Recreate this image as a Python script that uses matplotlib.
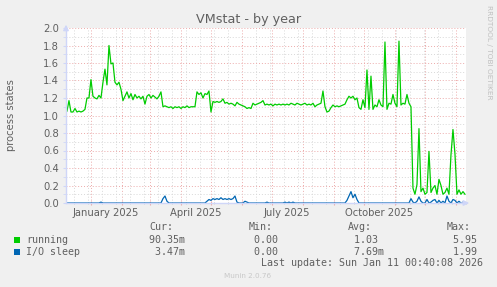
import numpy as np
import pandas as pd
import matplotlib
matplotlib.use("Agg")
import matplotlib.pyplot as plt
from matplotlib.patches import Rectangle

# sampled every 2 days, starting 2024-12-08
running = [
    1.05, 1.17, 1.04, 1.04, 1.08, 1.04, 1.05, 1.04, 1.05, 1.07,
    1.20, 1.20, 1.41, 1.22, 1.20, 1.19, 1.23, 1.20, 1.38, 1.53,
    1.35, 1.80, 1.59, 1.60, 1.38, 1.35, 1.38, 1.30, 1.17, 1.22,
    1.27, 1.20, 1.25, 1.18, 1.24, 1.20, 1.22, 1.19, 1.22, 1.13,
    1.22, 1.24, 1.20, 1.23, 1.21, 1.19, 1.22, 1.27, 1.10, 1.11,
    1.10, 1.09, 1.10, 1.08, 1.10, 1.09, 1.10, 1.08, 1.10, 1.09,
    1.11, 1.09, 1.10, 1.10, 1.10, 1.27, 1.24, 1.26, 1.20, 1.25,
    1.24, 1.28, 1.04, 1.16, 1.15, 1.16, 1.15, 1.16, 1.19, 1.14,
    1.15, 1.13, 1.14, 1.13, 1.11, 1.15, 1.13, 1.12, 1.11, 1.10,
    1.08, 1.09, 1.08, 1.14, 1.12, 1.13, 1.14, 1.15, 1.17, 1.12,
    1.13, 1.12, 1.13, 1.11, 1.13, 1.12, 1.13, 1.12, 1.13, 1.12,
    1.13, 1.12, 1.14, 1.13, 1.12, 1.14, 1.13, 1.12, 1.13, 1.14,
    1.12, 1.13, 1.12, 1.14, 1.10, 1.12, 1.13, 1.14, 1.28, 1.10,
    1.04, 1.05, 1.09, 1.12, 1.10, 1.11, 1.10, 1.11, 1.12, 1.13,
    1.18, 1.22, 1.20, 1.22, 1.18, 1.20, 1.09, 1.07, 1.18, 1.09,
    1.52, 1.07, 1.45, 1.07, 1.12, 1.10, 1.18, 1.12, 1.10, 1.84,
    1.07, 1.14, 1.13, 1.24, 1.14, 1.10, 1.85, 1.12, 1.14, 1.13,
    1.24, 1.14, 1.10, 0.17, 0.10, 0.21, 0.85, 0.13, 0.17, 0.10,
    0.12, 0.59, 0.12, 0.17, 0.20, 0.10, 0.27, 0.20, 0.10, 0.12,
    0.17, 0.10, 0.55, 0.84, 0.56, 0.10, 0.15, 0.10, 0.13, 0.10,
]
io_sleep = [
    0, 0, 0, 0, 0, 0, 0, 0, 0, 0,
    0, 0, 0, 0, 0, 0, 0, 0.01, 0, 0,
    0, 0, 0, 0, 0, 0, 0, 0, 0, 0,
    0, 0, 0, 0, 0, 0, 0, 0, 0, 0,
    0, 0, 0, 0, 0, 0, 0, 0, 0.05, 0.08,
    0.02, 0, 0, 0, 0, 0, 0, 0, 0, 0,
    0, 0, 0, 0, 0, 0, 0, 0, 0, 0,
    0.02, 0.04, 0.03, 0.05, 0.04, 0.05, 0.04, 0.06, 0.04, 0.05,
    0.04, 0.05, 0.04, 0.05, 0.08, 0.01, 0, 0, 0, 0.02,
    0.01, 0, 0, 0, 0, 0, 0, 0, 0, 0,
    0.01, 0, 0, 0, 0, 0, 0, 0, 0, 0.01,
    0, 0.01, 0, 0.01, 0, 0, 0, 0, 0, 0,
    0, 0, 0, 0, 0, 0, 0, 0, 0, 0,
    0, 0, 0, 0, 0, 0, 0, 0, 0, 0,
    0.03, 0.08, 0.13, 0.06, 0.10, 0.04, 0, 0, 0, 0,
    0, 0, 0, 0, 0, 0, 0, 0, 0, 0,
    0, 0, 0, 0, 0, 0, 0, 0, 0, 0,
    0, 0, 0.05, 0.01, 0, 0.02, 0.07, 0.02, 0, 0,
    0.04, 0, 0.01, 0.03, 0.04, 0, 0.03, 0, 0.02, 0,
    0.08, 0.02, 0, 0.04, 0.03, 0, 0.02, 0, 0.01, 0,
]
dates = pd.date_range("2024-12-08", periods=len(running), freq="2D")

series_names = ["running", "I/O sleep"]
series_colors = ["#00CC00", "#0066B3"]
stat_headers = ["Cur:", "Min:", "Avg:", "Max:"]
stats = [
    [("90.35", "m"), ("0.00", " "), ("1.03", " "), ("5.95", " ")],
    [("3.47", "m"), ("0.00", " "), ("7.69", "m"), ("1.99", " ")],
]
x_labels = ["January 2025", "April 2025", "July 2025", "October 2025"]
x_label_dates = ["2025-01-16", "2025-04-16", "2025-07-16", "2025-10-16"]

W, H = 497, 287
FONT = "#606060"
AXISC = "#CFD6F8"

def fx(x):
    return x / W

def fy(y):
    return 1 - y / H

fig = plt.figure(figsize=(W / 100, H / 100), dpi=100, facecolor="#F0F0F0")
ax = fig.add_axes([fx(66), fy(203), 400 / W, 175 / H])
ax.set_facecolor("white")

start = pd.Timestamp("2024-12-07 00:40")
end = pd.Timestamp("2026-01-11 00:40")
ax.set_xlim(start, end)
ax.set_ylim(0, 2.0)

# grid
ax.set_yticks(np.arange(0, 2.01, 0.2))
ax.set_yticks(np.arange(0, 2.01, 0.1), minor=True)
ax.set_yticklabels(["%.1f" % v for v in np.arange(0, 2.01, 0.2)])
months = pd.date_range("2025-01-01", "2026-01-01", freq="MS")
weeks = pd.date_range("2024-12-15", end, freq="14D")
ax.set_xticks(months)
ax.set_xticks(weeks, minor=True)
ax.set_xticklabels([])
ax.grid(which="minor", color="#d8d8d8", linestyle=(0, (1, 2)), linewidth=0.7)
ax.grid(which="major", color="#ecaaaa", linestyle=(0, (1, 2)), linewidth=0.7)
ax.set_axisbelow(True)

ax.tick_params(axis="y", which="both", length=2, color=AXISC, labelsize=7.2,
               labelcolor=FONT, pad=3)
ax.tick_params(axis="x", which="major", length=3, direction="inout", color="#ecaaaa")
ax.tick_params(axis="x", which="minor", length=2, direction="inout", color="#c8c8c8")

for s in ["top", "right"]:
    ax.spines[s].set_visible(False)
for s in ["left", "bottom"]:
    ax.spines[s].set_color(AXISC)
    ax.spines[s].set_linewidth(1)

ax.annotate("", xy=(1.015, 0), xytext=(0.98, 0), xycoords="axes fraction",
            arrowprops=dict(arrowstyle="-|>", color=AXISC, lw=1, mutation_scale=8))
ax.annotate("", xy=(0, 1.035), xytext=(0, 0.98), xycoords="axes fraction",
            arrowprops=dict(arrowstyle="-|>", color=AXISC, lw=1, mutation_scale=8))

for d, lab in zip(x_label_dates, x_labels):
    ax.text(pd.Timestamp(d), -0.03, lab, transform=ax.get_xaxis_transform(),
            ha="center", va="top", fontsize=7.2, color=FONT)

# data
ax.plot(dates, running, color=series_colors[0], lw=0.9)
ax.plot(dates, io_sleep, color=series_colors[1], lw=0.9)

# titles
fig.text(fx(248.5), fy(19.5), "VMstat - by year", ha="center", va="center",
         fontsize=9.2, color=FONT)
fig.text(fx(11), fy(115.5), "process states", rotation=90, ha="center",
         va="center", fontsize=7.2, color=FONT)
fig.text(fx(488.5), fy(5), "RRDTOOL / TOBI OETIKER", rotation=270, ha="center",
         va="top", fontsize=5.3, color="#c0c0c0")

# legend
mono = "DejaVu Sans Mono"
col_x = [143.2, 242.2, 341.7, 440.9]
for cx, h in zip(col_x, stat_headers):
    fig.text(fx(cx + 6.05), fy(227.5), h, ha="left", va="center",
             fontsize=7.2, family=mono, color=FONT)
row_y = [240, 252]
for ry, name, col, vals in zip(row_y, series_names, series_colors, stats):
    fig.patches.append(Rectangle((fx(14), fy(ry + 2.75)), 5.5 / W, 5.5 / H,
                                 transform=fig.transFigure, facecolor=col,
                                 edgecolor="none"))
    fig.text(fx(26), fy(ry), name, ha="left", va="center", fontsize=7.2,
             family=mono, color=FONT)
    for cx, (num, unit) in zip(col_x, vals):
        fig.text(fx(cx), fy(ry), "%6s%s" % (num, unit), ha="left", va="center",
                 fontsize=7.2, family=mono, color=FONT)

fig.text(fx(261), fy(263), "Last update: Sun Jan 11 00:40:08 2026", ha="left",
         va="center", fontsize=7.2, family=mono, color=FONT)
fig.text(fx(248), fy(276), "Munin 2.0.76", ha="center", va="center",
         fontsize=5.2, color="#c8c8c8")

fig.savefig("out.png", dpi=100, facecolor=fig.get_facecolor())
